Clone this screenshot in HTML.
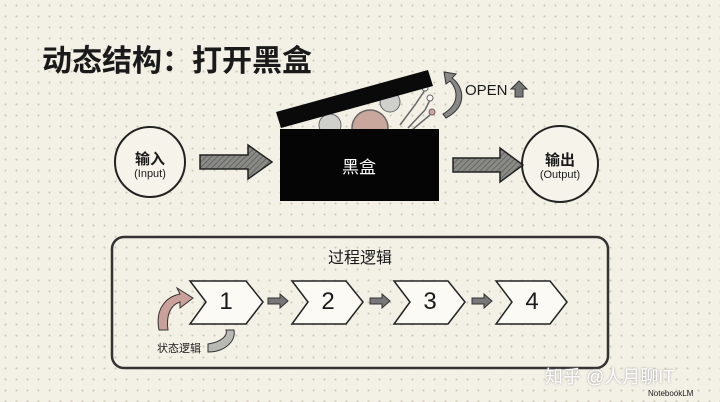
<!DOCTYPE html>
<html><head><meta charset="utf-8"><style>
body{margin:0;}
.c{width:720px;height:402px;position:relative;overflow:hidden;background-color:#f3f0e6;
background-image:radial-gradient(circle,#cfc9b8 0.8px,transparent 1.2px);background-size:11px 11px;
font-family:"Liberation Sans","Noto Sans CJK SC",sans-serif;color:#1a1a1a;}
.t{position:absolute;white-space:nowrap;}
</style></head><body><div class="c">
<div class="t" style="left:42px;top:36px;font-size:30px;font-weight:bold;">动态结构：打开黑盒</div>
<svg width="720" height="402" style="position:absolute;left:0;top:0">
<defs><pattern id="h" width="4" height="4" patternUnits="userSpaceOnUse" patternTransform="rotate(45)"><rect width="4" height="4" fill="#8a8a86"/><line x1="0" y1="0" x2="0" y2="4" stroke="#5a5a58" stroke-width="1.5"/></pattern></defs>
<circle cx="150" cy="162" r="35" fill="#f6f3ea" stroke="#222" stroke-width="2"/>
<circle cx="560" cy="164" r="38" fill="#f6f3ea" stroke="#222" stroke-width="2"/>
<polygon points="200,155 248,155 248,145 272,162 248,179 248,169 200,169" fill="url(#h)" stroke="#222" stroke-width="1.5"/>
<polygon points="453,158 500,158 500,148 523,165 500,182 500,172 453,172" fill="url(#h)" stroke="#222" stroke-width="1.5"/>
<circle cx="370" cy="128" r="18" fill="#c9a79c" stroke="#666" stroke-width="1.5"/>
<circle cx="330" cy="125" r="11" fill="#cfcfcc" stroke="#666"/>
<circle cx="390" cy="102" r="10" fill="#cfcfcc" stroke="#666"/>
<path d="M400,125 L415,105 L425,90 M408,128 L425,110 L430,100 M412,130 L430,115" stroke="#666" stroke-width="1.5" fill="none"/>
<circle cx="425" cy="88" r="3" fill="#fff" stroke="#666"/><circle cx="430" cy="98" r="3" fill="#fff" stroke="#666"/><circle cx="432" cy="112" r="3" fill="#d9a0a0" stroke="#666"/>
<polygon points="276,112 428,70 433,86 281,128" fill="#0a0a0a"/>
<rect x="280" y="129" width="159" height="72" fill="#050505"/>
<path d="M446,118 C470,105 462,85 452,78 L456,74 L444,72 L446,84 L450,81 C458,90 460,104 443,114 Z" fill="#888" stroke="#333"/>
<polygon points="515,97 515,89 511,89 519,81 527,89 523,89 523,97" fill="#777" stroke="#333"/>
<rect x="112" y="237" width="496" height="131" rx="12" fill="none" stroke="#333" stroke-width="2.5"/>
<g fill="#fbfaf5" stroke="#222" stroke-width="1.5">
<polygon points="190,281 246,281 263,302 246,324 190,324 206,302"/>
<polygon points="292,281 346,281 363,302 346,324 292,324 308,302"/>
<polygon points="394,281 448,281 465,302 448,324 394,324 410,302"/>
<polygon points="496,281 550,281 567,302 550,324 496,324 512,302"/>
</g>
<g fill="#777" stroke="#333">
<polygon points="268,298 280,298 280,294 288,301 280,308 280,304 268,304"/>
<polygon points="370,298 382,298 382,294 390,301 382,308 382,304 370,304"/>
<polygon points="472,298 484,298 484,294 492,301 484,308 484,304 472,304"/>
</g>
<path d="M159,330 C155,310 165,297 180,294 L177,288 L193,298 L180,308 L180,302 C170,305 166,316 168,330 Z" fill="#c9a09a" stroke="#333"/>
<path d="M208,344 C222,342 228,335 226,330 L234,330 C236,342 224,352 208,352 Z" fill="#b8b8b4" stroke="#333"/>
</svg>
<div class="t" style="left:150px;top:148px;transform:translateX(-50%);font-size:15px;font-weight:bold;">输入</div>
<div class="t" style="left:150px;top:168px;transform:translateX(-50%);font-size:11px;">(Input)</div>
<div class="t" style="left:560px;top:149px;transform:translateX(-50%);font-size:15px;font-weight:bold;">输出</div>
<div class="t" style="left:560px;top:169px;transform:translateX(-50%);font-size:11px;">(Output)</div>
<div class="t" style="left:359px;top:153px;transform:translateX(-50%);font-size:17px;color:#fff;">黑盒</div>
<div class="t" style="left:465px;top:82px;font-size:15px;">OPEN</div>
<div class="t" style="left:360px;top:244px;transform:translateX(-50%);font-size:16px;">过程逻辑</div>
<div class="t" style="left:226px;top:288px;transform:translateX(-50%);font-size:24px;">1</div>
<div class="t" style="left:328px;top:288px;transform:translateX(-50%);font-size:24px;">2</div>
<div class="t" style="left:430px;top:288px;transform:translateX(-50%);font-size:24px;">3</div>
<div class="t" style="left:532px;top:288px;transform:translateX(-50%);font-size:24px;">4</div>
<div class="t" style="left:157px;top:340px;font-size:11px;">状态逻辑</div>
<div class="t" style="left:545px;top:363px;font-size:18px;color:#fff;text-shadow:0 0 2px #999;">知乎 @人月聊IT</div>
<div class="t" style="left:648px;top:389px;font-size:8px;">NotebookLM</div>
</div></body></html>
